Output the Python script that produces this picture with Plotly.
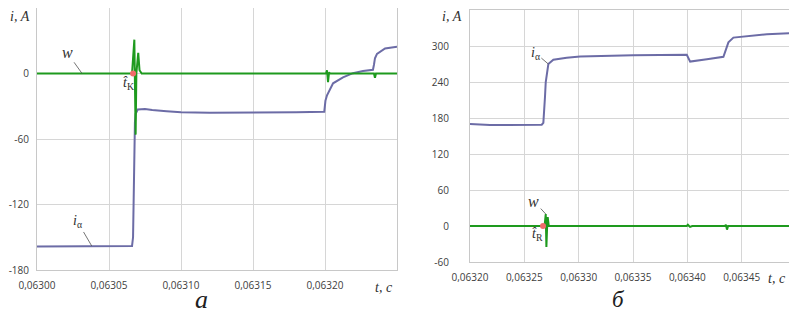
import plotly.graph_objects as go

# ---------------- data: panel a ----------------
a_t_i = [0.063000, 0.063030, 0.063066, 0.0630667, 0.0630672, 0.063068, 0.0630685,
         0.063070, 0.063075, 0.063080, 0.063090, 0.063100, 0.063120, 0.063150,
         0.063180, 0.0631995, 0.0632003, 0.0632014, 0.0632056, 0.0632125,
         0.0632194, 0.0632264, 0.0632333, 0.0632340, 0.0632347, 0.0632361,
         0.0632417, 0.063250]
a_i = [-158.5, -158.3, -158.0, -150.0, -100.0, -45.0, -37.0,
       -33.0, -32.5, -33.5, -34.5, -35.5, -36.0, -36.0,
       -35.5, -35.0, -25.0, -20.0, -9.0, -3.6,
       0.3, 2.2, 3.4, 8.0, 14.0, 18.0,
       23.0, 24.5]

a_t_w = [0.063000, 0.0630660, 0.0630676, 0.0630685, 0.0630690, 0.0630697,
         0.0630703, 0.0630712, 0.0630727, 0.0632007, 0.0632014, 0.0632021,
         0.0632028, 0.0632035, 0.0632340, 0.0632347, 0.0632354, 0.063250]
a_w = [0.0, 0.0, 31.0, -56.0, 0.0, 8.0,
       19.0, 3.0, 0.0, 0.0, 3.0, -8.0,
       1.0, 0.0, 0.0, -4.0, 0.0, 0.0]

a_tk = [0.0630667]
a_tk_val = [0.0]

a_xticks = [0.06300, 0.06305, 0.06310, 0.06315, 0.06320, 0.06325]
a_xtext = ["0,06300", "0,06305", "0,06310", "0,06315", "0,06320", ""]
a_yticks = [-180, -120, -60, 0, 60]
a_ytext = ["-180", "-120", "-60", "0", ""]

# ---------------- data: panel б ----------------
b_t_i = [0.0632000, 0.0632184, 0.0632660, 0.0632675, 0.0632690, 0.0632697,
         0.0632721, 0.0632767, 0.0632890, 0.0633013, 0.0633501, 0.0633995,
         0.0634026, 0.0634056, 0.0634180, 0.0634332, 0.0634348, 0.0634363,
         0.0634378, 0.0634424, 0.0634578, 0.0634732, 0.0635000]
b_i = [170.0, 168.3, 168.8, 172.0, 215.0, 240.0,
       270.0, 277.0, 280.6, 282.7, 284.4, 285.5,
       274.0, 275.0, 278.0, 282.0, 290.0, 300.0,
       306.0, 314.0, 317.0, 319.5, 321.7]

b_t_w = [0.0632000, 0.0632686, 0.0632697, 0.0632703, 0.0632710, 0.0632715,
         0.0632725, 0.0633995, 0.0634005, 0.0634025, 0.0634045, 0.0634345,
         0.0634355, 0.0634365, 0.0634375, 0.0635000]
b_w = [0.0, 0.0, 20.0, -35.0, 0.0, 15.0,
       0.0, 0.0, 2.0, -1.5, 0.0, 0.0,
       2.0, -6.0, 0.0, 0.0]

b_tr = [0.0632672]
b_tr_val = [0.0]

b_xticks = [0.06320, 0.06325, 0.06330, 0.06335, 0.06340, 0.06345, 0.06350]
b_xtext = ["0,06320", "0,06325", "0,06330", "0,06335", "0,06340", "0,06345", ""]
b_yticks = [-60, 0, 60, 120, 180, 240, 300, 360]
b_ytext = ["-60", "0", "60", "120", "180", "240", "300", ""]

# ---------------- layout helpers (page has an 8px body margin) ----------------
OFF = 8
W, H = 797 - OFF, 321 - 2 * OFF


def fx(px):
    return (px - OFF) / W


def fy(py):
    return 1 - (py - OFF) / H


# ---------------- styles ----------------
I_COLOR = "#6c6ca6"
W_COLOR = "#1e9a1e"
DOT_COLOR = "#f26b6b"
GRID = "#d6d6d6"
TICKFONT = dict(family="Open Sans", size=10, color="#404040")
SERIF = "Liberation Serif"

fig = go.Figure()

fig.add_trace(go.Scatter(x=a_t_i, y=a_i, mode="lines", line=dict(color=I_COLOR, width=2),
                         xaxis="x", yaxis="y", showlegend=False))
fig.add_trace(go.Scatter(x=a_t_w, y=a_w, mode="lines", line=dict(color=W_COLOR, width=2),
                         xaxis="x", yaxis="y", showlegend=False))
fig.add_trace(go.Scatter(x=a_tk, y=a_tk_val, mode="markers",
                         marker=dict(color=DOT_COLOR, size=6),
                         xaxis="x", yaxis="y", showlegend=False))

fig.add_trace(go.Scatter(x=b_t_i, y=b_i, mode="lines", line=dict(color=I_COLOR, width=2),
                         xaxis="x2", yaxis="y2", showlegend=False))
fig.add_trace(go.Scatter(x=b_t_w, y=b_w, mode="lines", line=dict(color=W_COLOR, width=2),
                         xaxis="x2", yaxis="y2", showlegend=False))
fig.add_trace(go.Scatter(x=b_tr, y=b_tr_val, mode="markers",
                         marker=dict(color=DOT_COLOR, size=6),
                         xaxis="x2", yaxis="y2", showlegend=False))

axis_common = dict(showgrid=True, gridcolor=GRID, gridwidth=1, zeroline=False,
                   showline=True, linecolor="#c8c8c8", linewidth=1, mirror=True,
                   ticks="", tickfont=TICKFONT, tickmode="array", automargin=False)

fig.update_layout(
    width=W, height=H,
    margin=dict(l=0, r=0, t=0, b=0, pad=0),
    paper_bgcolor="white", plot_bgcolor="white",
    xaxis=dict(domain=[fx(37), fx(397)], range=[0.06300, 0.06325], anchor="y",
               tickvals=a_xticks, ticktext=a_xtext, ticklabelstandoff=6, **axis_common),
    yaxis=dict(domain=[fy(270), fy(8)], range=[-180, 60], anchor="x",
               tickvals=a_yticks, ticktext=a_ytext, ticklabelstandoff=5, **axis_common),
    xaxis2=dict(domain=[fx(470), fx(796)], range=[0.06320, 0.06350], anchor="y2",
                tickvals=b_xticks, ticktext=b_xtext, ticklabelstandoff=6, **axis_common),
    yaxis2=dict(domain=[fy(262), fy(10)], range=[-60, 360], anchor="x2",
                tickvals=b_yticks, ticktext=b_ytext, ticklabelstandoff=18, **axis_common),
)

lab = dict(family=SERIF, size=14, color="#303030")
ctr = dict(xanchor="center", yanchor="middle", showarrow=False)
ann = []
# axis names
ann.append(dict(xref="paper", yref="paper", x=fx(20), y=fy(16), text="<i>i, A</i>",
                font=lab, **ctr))
ann.append(dict(xref="paper", yref="paper", x=fx(452), y=fy(16), text="<i>i, A</i>",
                font=lab, **ctr))
ann.append(dict(xref="paper", yref="paper", x=fx(384), y=fy(287), text="<i>t, c</i>",
                font=lab, **ctr))
ann.append(dict(xref="paper", yref="paper", x=fx(777), y=fy(278), text="<i>t, c</i>",
                font=lab, **ctr))
# panel letters
ann.append(dict(xref="paper", yref="paper", x=fx(201), y=fy(299), text="<i>a</i>",
                font=dict(family=SERIF, size=26, color="#202020"), **ctr))
ann.append(dict(xref="paper", yref="paper", x=fx(618), y=fy(299), text="<i>б</i>",
                font=dict(family=SERIF, size=23, color="#202020"), **ctr))
# curve labels with leaders
lead = dict(showarrow=True, arrowhead=0, arrowwidth=0.8, arrowcolor="#505050")
ann.append(dict(xref="x", yref="y", x=0.0630313, y=0, ax=-15, ay=-21,
                text="<i>w</i>", font=dict(family=SERIF, size=16, color="#303030"), **lead))
ann.append(dict(xref="x", yref="y", x=0.063038, y=-158, ax=-14, ay=-24,
                text="<i>i</i><sub>α</sub>", font=lab, **lead))
ann.append(dict(xref="x2", yref="y2", x=0.0632721, y=270, ax=-13, ay=-11,
                text="<i>i</i><sub>α</sub>", font=lab, **lead))
ann.append(dict(xref="x2", yref="y2", x=0.0632697, y=20, ax=-12, ay=-13,
                text="<i>w</i>", font=dict(family=SERIF, size=16, color="#303030"), **lead))
# detection instants
ann.append(dict(xref="x", yref="y", x=0.0630632, y=-9, text="<i>t̂</i><sub>K</sub>",
                font=lab, **ctr))
ann.append(dict(xref="x2", yref="y2", x=0.0632617, y=-14, text="<i>t̂</i><sub>R</sub>",
                font=lab, **ctr))

fig.update_layout(annotations=ann)
fig.write_html("out.html")
